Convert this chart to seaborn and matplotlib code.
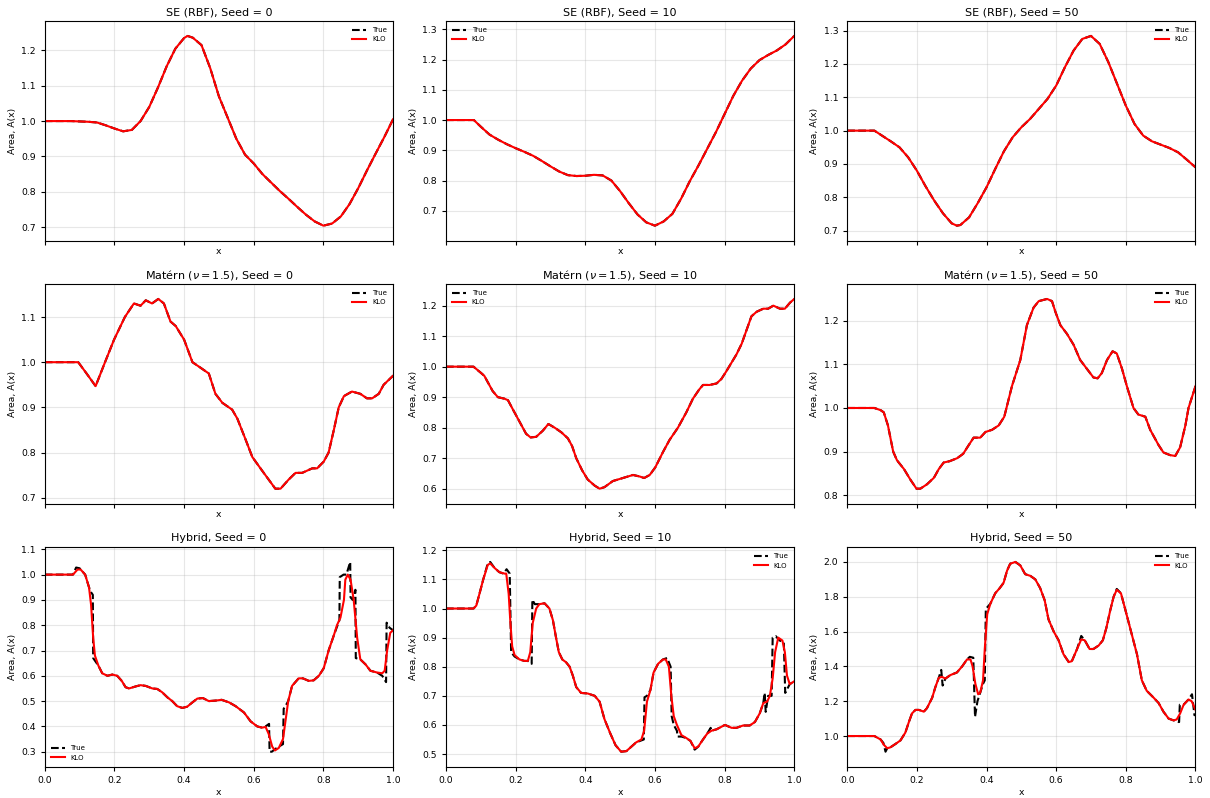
import matplotlib
matplotlib.use("Agg")
import matplotlib.pyplot as plt
import seaborn as sns
import pandas as pd

# ---------------- data ----------------
kernels = ["SE (RBF)", "Matérn ($\\nu = 1.5$)", "Hybrid"]
seeds = [0, 10, 50]

# SE (RBF)
se0_x = [0, 0.025, 0.05, 0.075, 0.1, 0.125, 0.15, 0.175, 0.2, 0.225, 0.25, 0.275, 0.3, 0.325, 0.35, 0.375,
         0.4, 0.41, 0.425, 0.45, 0.475, 0.5, 0.525, 0.55, 0.575, 0.6, 0.625, 0.65, 0.675, 0.7, 0.725, 0.75,
         0.775, 0.8, 0.825, 0.85, 0.875, 0.9, 0.925, 0.95, 0.975, 1.0]
se0_y = [1.0, 1.0, 1.0, 1.0, 0.999, 0.998, 0.996, 0.988, 0.979, 0.971, 0.975, 1.0, 1.04, 1.095, 1.155, 1.205,
         1.235, 1.241, 1.236, 1.215, 1.15, 1.07, 1.01, 0.95, 0.905, 0.88, 0.85, 0.826, 0.802, 0.78, 0.757, 0.735,
         0.716, 0.704, 0.71, 0.73, 0.765, 0.81, 0.86, 0.908, 0.955, 1.005]

se10_x = [0, 0.05, 0.08, 0.1, 0.125, 0.15, 0.175, 0.2, 0.225, 0.25, 0.275, 0.3, 0.325, 0.35, 0.375, 0.4,
          0.425, 0.45, 0.475, 0.5, 0.525, 0.55, 0.575, 0.6, 0.625, 0.65, 0.675, 0.7, 0.725, 0.75, 0.775, 0.8,
          0.825, 0.85, 0.875, 0.9, 0.925, 0.95, 0.975, 1.0]
se10_y = [1.0, 1.0, 1.0, 0.978, 0.952, 0.935, 0.92, 0.907, 0.895, 0.882, 0.865, 0.847, 0.83, 0.818, 0.815, 0.816,
          0.819, 0.817, 0.8, 0.765, 0.725, 0.688, 0.662, 0.651, 0.665, 0.69, 0.74, 0.798, 0.85, 0.905, 0.96, 1.02,
          1.08, 1.13, 1.17, 1.198, 1.215, 1.23, 1.25, 1.278]

se50_x = [0, 0.05, 0.078, 0.1, 0.125, 0.15, 0.175, 0.2, 0.225, 0.25, 0.275, 0.3, 0.315, 0.325, 0.35, 0.375,
          0.4, 0.425, 0.45, 0.475, 0.5, 0.525, 0.55, 0.575, 0.6, 0.625, 0.65, 0.675, 0.7, 0.725, 0.75, 0.775,
          0.8, 0.825, 0.85, 0.875, 0.9, 0.925, 0.95, 0.975, 1.0]
se50_y = [1.0, 1.0, 1.0, 0.985, 0.968, 0.95, 0.92, 0.88, 0.833, 0.79, 0.752, 0.722, 0.715, 0.717, 0.74, 0.783,
          0.83, 0.885, 0.938, 0.98, 1.01, 1.035, 1.065, 1.095, 1.135, 1.19, 1.24, 1.275, 1.284, 1.26, 1.205, 1.14,
          1.075, 1.02, 0.985, 0.968, 0.958, 0.948, 0.935, 0.913, 0.89]

# Matérn (nu = 1.5)
m0_x = [0, 0.096, 0.12, 0.146, 0.173, 0.199, 0.23, 0.256, 0.275, 0.29, 0.308, 0.326, 0.342, 0.361, 0.376, 0.4,
        0.424, 0.443, 0.471, 0.49, 0.51, 0.538, 0.553, 0.576, 0.596, 0.624, 0.643, 0.662, 0.677, 0.7, 0.72, 0.739,
        0.768, 0.782, 0.801, 0.815, 0.83, 0.844, 0.859, 0.882, 0.906, 0.925, 0.94, 0.959, 0.973, 1.0]
m0_y = [1.0, 1.0, 0.975, 0.947, 1.0, 1.05, 1.1, 1.13, 1.125, 1.137, 1.13, 1.14, 1.13, 1.09, 1.08, 1.05,
        1.0, 0.99, 0.975, 0.93, 0.91, 0.895, 0.875, 0.83, 0.79, 0.76, 0.74, 0.72, 0.72, 0.74, 0.755, 0.755,
        0.765, 0.765, 0.78, 0.8, 0.85, 0.9, 0.925, 0.935, 0.93, 0.92, 0.92, 0.93, 0.95, 0.97]

m10_x = [0, 0.079, 0.1, 0.11, 0.134, 0.149, 0.168, 0.178, 0.192, 0.211, 0.23, 0.243, 0.259, 0.278, 0.294, 0.312,
         0.331, 0.35, 0.362, 0.374, 0.391, 0.407, 0.427, 0.441, 0.455, 0.479, 0.508, 0.537, 0.556, 0.569, 0.585,
         0.601, 0.623, 0.642, 0.666, 0.69, 0.709, 0.727, 0.738, 0.757, 0.777, 0.791, 0.805, 0.834, 0.849, 0.863,
         0.877, 0.892, 0.911, 0.925, 0.94, 0.959, 0.973, 0.988, 1.0]
m10_y = [1.0, 1.0, 0.98, 0.97, 0.92, 0.9, 0.895, 0.89, 0.86, 0.82, 0.78, 0.768, 0.77, 0.79, 0.812, 0.8,
         0.785, 0.765, 0.74, 0.7, 0.66, 0.63, 0.61, 0.6, 0.605, 0.625, 0.635, 0.645, 0.64, 0.635, 0.645,
         0.67, 0.72, 0.76, 0.8, 0.85, 0.895, 0.925, 0.94, 0.94, 0.945, 0.96, 0.985, 1.04, 1.075, 1.12,
         1.165, 1.18, 1.19, 1.19, 1.2, 1.19, 1.19, 1.21, 1.222]

m50_x = [0, 0.078, 0.096, 0.105, 0.117, 0.132, 0.143, 0.163, 0.182, 0.199, 0.21, 0.229, 0.249, 0.263, 0.277,
         0.294, 0.316, 0.333, 0.349, 0.363, 0.382, 0.397, 0.416, 0.435, 0.451, 0.473, 0.497, 0.516, 0.535, 0.55,
         0.574, 0.588, 0.598, 0.612, 0.631, 0.65, 0.669, 0.688, 0.707, 0.719, 0.731, 0.746, 0.762, 0.774, 0.789,
         0.803, 0.822, 0.836, 0.856, 0.87, 0.894, 0.908, 0.927, 0.942, 0.956, 0.971, 0.98, 1.0]
m50_y = [1.0, 1.0, 0.995, 0.99, 0.96, 0.9, 0.88, 0.86, 0.835, 0.815, 0.815, 0.825, 0.84, 0.86, 0.875,
         0.878, 0.885, 0.895, 0.915, 0.932, 0.932, 0.945, 0.95, 0.96, 0.98, 1.05, 1.11, 1.19, 1.23, 1.245,
         1.25, 1.245, 1.22, 1.19, 1.17, 1.145, 1.11, 1.09, 1.07, 1.068, 1.08, 1.11, 1.13, 1.125, 1.09,
         1.05, 1.0, 0.985, 0.98, 0.95, 0.915, 0.898, 0.892, 0.89, 0.91, 0.96, 1.0, 1.05]

# Hybrid, seed 0
h0_klo_x = [0, 0.081, 0.094, 0.103, 0.116, 0.127, 0.133, 0.139, 0.144, 0.154, 0.165, 0.18, 0.194, 0.208, 0.221,
            0.232, 0.242, 0.261, 0.275, 0.29, 0.309, 0.323, 0.337, 0.352, 0.366, 0.38, 0.395, 0.409, 0.424, 0.438,
            0.454, 0.471, 0.49, 0.508, 0.529, 0.548, 0.572, 0.591, 0.61, 0.624, 0.634, 0.643, 0.653, 0.661, 0.672,
            0.684, 0.691, 0.699, 0.71, 0.729, 0.741, 0.758, 0.772, 0.787, 0.801, 0.815, 0.83, 0.839, 0.849, 0.859,
            0.863, 0.87, 0.878, 0.887, 0.897, 0.906, 0.921, 0.935, 0.954, 0.969, 0.976, 0.983, 0.992, 1.0]
h0_klo_y = [1.0, 1.0, 1.02, 1.02, 1.0, 0.95, 0.88, 0.75, 0.68, 0.64, 0.61, 0.6, 0.605, 0.6, 0.58,
            0.555, 0.55, 0.558, 0.563, 0.56, 0.55, 0.548, 0.535, 0.515, 0.5, 0.48, 0.473, 0.478, 0.495, 0.51,
            0.512, 0.5, 0.502, 0.505, 0.495, 0.48, 0.455, 0.42, 0.4, 0.395, 0.398, 0.37, 0.32, 0.305, 0.315,
            0.35, 0.42, 0.5, 0.56, 0.59, 0.59, 0.58, 0.582, 0.6, 0.63, 0.7, 0.76, 0.8, 0.83, 0.9,
            0.98, 1.0, 0.98, 0.9, 0.75, 0.665, 0.645, 0.62, 0.613, 0.61, 0.62, 0.7, 0.77, 0.78]
h0_true_x = [0, 0.081, 0.09, 0.1, 0.116, 0.127, 0.133, 0.138, 0.139, 0.144, 0.154, 0.165, 0.18, 0.194, 0.208,
             0.221, 0.232, 0.242, 0.261, 0.275, 0.29, 0.309, 0.323, 0.337, 0.352, 0.366, 0.38, 0.395, 0.409, 0.424,
             0.438, 0.454, 0.471, 0.49, 0.508, 0.529, 0.548, 0.572, 0.591, 0.61, 0.624, 0.634, 0.644, 0.6455, 0.652,
             0.661, 0.672, 0.684, 0.686, 0.691, 0.699, 0.71, 0.729, 0.741, 0.758, 0.772, 0.787, 0.801, 0.815, 0.83,
             0.846, 0.847, 0.858, 0.866, 0.877, 0.878, 0.884, 0.892, 0.893, 0.906, 0.921, 0.935, 0.954, 0.969,
             0.98, 0.9815, 0.99, 1.0]
h0_true_y = [1.0, 1.0, 1.028, 1.025, 1.0, 0.95, 0.93, 0.92, 0.67, 0.66, 0.64, 0.61, 0.6, 0.605, 0.6,
             0.58, 0.555, 0.55, 0.558, 0.563, 0.56, 0.55, 0.548, 0.535, 0.515, 0.5, 0.48, 0.473, 0.478, 0.495,
             0.51, 0.512, 0.5, 0.502, 0.505, 0.495, 0.48, 0.455, 0.42, 0.4, 0.395, 0.4, 0.41, 0.3, 0.3,
             0.31, 0.32, 0.33, 0.47, 0.48, 0.5, 0.56, 0.59, 0.59, 0.58, 0.582, 0.6, 0.63, 0.7, 0.76,
             0.82, 0.99, 1.0, 1.0, 1.05, 0.91, 0.9, 0.94, 0.67, 0.665, 0.645, 0.62, 0.613, 0.6,
             0.575, 0.81, 0.79, 0.78]

# Hybrid, seed 10
h10_klo_x = [0, 0.079, 0.087, 0.096, 0.107, 0.12, 0.127, 0.139, 0.153, 0.168, 0.173, 0.18, 0.185, 0.19, 0.197,
             0.211, 0.225, 0.235, 0.242, 0.249, 0.259, 0.268, 0.283, 0.297, 0.307, 0.316, 0.324, 0.334, 0.345,
             0.355, 0.364, 0.374, 0.388, 0.407, 0.427, 0.441, 0.455, 0.472, 0.487, 0.503, 0.518, 0.532, 0.546,
             0.561, 0.569, 0.577, 0.587, 0.596, 0.609, 0.623, 0.631, 0.64, 0.647, 0.654, 0.663, 0.676, 0.69,
             0.702, 0.714, 0.724, 0.738, 0.75, 0.762, 0.777, 0.801, 0.82, 0.834, 0.853, 0.872, 0.887, 0.901,
             0.911, 0.922, 0.93, 0.938, 0.945, 0.954, 0.966, 0.973, 0.979, 0.987, 1.0]
h10_klo_y = [1.0, 1.0, 1.01, 1.05, 1.1, 1.15, 1.155, 1.14, 1.125, 1.12, 1.12, 1.05, 0.95, 0.87, 0.84,
             0.825, 0.82, 0.82, 0.85, 0.95, 1.0, 1.015, 1.018, 1.0, 0.96, 0.9, 0.85, 0.825, 0.815,
             0.8, 0.77, 0.73, 0.71, 0.708, 0.7, 0.68, 0.62, 0.57, 0.53, 0.508, 0.51, 0.525, 0.54,
             0.55, 0.58, 0.68, 0.72, 0.78, 0.81, 0.825, 0.825, 0.8, 0.7, 0.63, 0.6, 0.565, 0.555,
             0.545, 0.52, 0.525, 0.55, 0.57, 0.58, 0.585, 0.6, 0.59, 0.59, 0.598, 0.598, 0.61, 0.64,
             0.675, 0.68, 0.7, 0.76, 0.85, 0.9, 0.89, 0.85, 0.77, 0.74, 0.75]
h10_true_x = [0, 0.079, 0.087, 0.096, 0.107, 0.12, 0.127, 0.139, 0.153, 0.165, 0.174, 0.183, 0.187, 0.197,
              0.211, 0.225, 0.235, 0.246, 0.248, 0.255, 0.268, 0.283, 0.297, 0.307, 0.316, 0.324, 0.334, 0.345,
              0.355, 0.364, 0.374, 0.388, 0.407, 0.427, 0.441, 0.455, 0.472, 0.487, 0.503, 0.518, 0.532, 0.546,
              0.568, 0.57, 0.577, 0.587, 0.596, 0.609, 0.623, 0.635, 0.645, 0.648, 0.654, 0.663, 0.665, 0.676,
              0.69, 0.702, 0.714, 0.724, 0.738, 0.75, 0.76, 0.762, 0.777, 0.801, 0.82, 0.834, 0.853, 0.872,
              0.887, 0.901, 0.911, 0.915, 0.918, 0.925, 0.935, 0.938, 0.947, 0.958, 0.97, 0.974, 0.987, 1.0]
h10_true_y = [1.0, 1.0, 1.01, 1.05, 1.1, 1.155, 1.16, 1.14, 1.125, 1.12, 1.135, 1.12, 0.85, 0.835,
              0.825, 0.82, 0.82, 0.81, 1.03, 1.015, 1.015, 1.018, 1.0, 0.96, 0.9, 0.85, 0.825, 0.815,
              0.8, 0.77, 0.73, 0.71, 0.708, 0.7, 0.68, 0.62, 0.57, 0.53, 0.508, 0.51, 0.525, 0.54,
              0.55, 0.695, 0.7, 0.72, 0.78, 0.81, 0.825, 0.83, 0.8, 0.63, 0.6, 0.58, 0.56, 0.56,
              0.555, 0.545, 0.515, 0.525, 0.55, 0.57, 0.59, 0.58, 0.585, 0.6, 0.59, 0.59, 0.598, 0.598,
              0.61, 0.64, 0.675, 0.71, 0.645, 0.7, 0.7, 0.9, 0.905, 0.89, 0.885, 0.71, 0.74, 0.75]

# Hybrid, seed 50
h50_klo_x = [0, 0.078, 0.096, 0.105, 0.115, 0.124, 0.139, 0.153, 0.167, 0.177, 0.186, 0.196, 0.206, 0.22,
             0.229, 0.244, 0.253, 0.263, 0.272, 0.282, 0.296, 0.315, 0.33, 0.344, 0.354, 0.36, 0.368, 0.376,
             0.382, 0.39, 0.395, 0.402, 0.411, 0.425, 0.438, 0.449, 0.459, 0.468, 0.483, 0.497, 0.511, 0.526,
             0.54, 0.554, 0.567, 0.578, 0.593, 0.607, 0.621, 0.636, 0.645, 0.66, 0.672, 0.682, 0.696, 0.707,
             0.722, 0.734, 0.744, 0.755, 0.765, 0.774, 0.786, 0.798, 0.815, 0.832, 0.846, 0.86, 0.88, 0.894,
             0.908, 0.923, 0.937, 0.946, 0.956, 0.966, 0.98, 0.989, 1.0]
h50_klo_y = [1.0, 1.0, 0.98, 0.95, 0.93, 0.935, 0.955, 0.975, 1.02, 1.08, 1.13, 1.15, 1.15, 1.14,
             1.16, 1.22, 1.28, 1.335, 1.34, 1.33, 1.35, 1.365, 1.4, 1.44, 1.44, 1.4, 1.3, 1.24,
             1.25, 1.32, 1.5, 1.7, 1.76, 1.82, 1.85, 1.88, 1.95, 1.99, 2.0, 1.98, 1.93, 1.92,
             1.9, 1.85, 1.78, 1.67, 1.6, 1.55, 1.47, 1.425, 1.43, 1.5, 1.555, 1.55, 1.5, 1.5,
             1.52, 1.55, 1.62, 1.72, 1.8, 1.84, 1.82, 1.73, 1.6, 1.47, 1.32, 1.26, 1.22, 1.19,
             1.14, 1.1, 1.09, 1.095, 1.13, 1.18, 1.21, 1.2, 1.15]
h50_true_x = [0, 0.078, 0.096, 0.104, 0.11, 0.115, 0.124, 0.139, 0.153, 0.167, 0.177, 0.186, 0.196, 0.206,
              0.22, 0.229, 0.244, 0.253, 0.263, 0.27, 0.274, 0.282, 0.296, 0.315, 0.33, 0.344, 0.352, 0.362,
              0.367, 0.374, 0.382, 0.39, 0.395, 0.398, 0.411, 0.425, 0.438, 0.449, 0.459, 0.468, 0.483, 0.497,
              0.511, 0.526, 0.54, 0.554, 0.567, 0.578, 0.593, 0.607, 0.621, 0.636, 0.645, 0.66, 0.672, 0.682,
              0.696, 0.707, 0.722, 0.734, 0.744, 0.755, 0.765, 0.774, 0.786, 0.798, 0.815, 0.832, 0.846, 0.86,
              0.88, 0.894, 0.908, 0.923, 0.937, 0.953, 0.955, 0.966, 0.98, 0.99, 0.997, 1.0]
h50_true_y = [1.0, 1.0, 0.98, 0.96, 0.91, 0.93, 0.935, 0.955, 0.975, 1.02, 1.08, 1.13, 1.15, 1.15,
              1.14, 1.16, 1.22, 1.28, 1.335, 1.38, 1.29, 1.33, 1.35, 1.365, 1.4, 1.44, 1.455, 1.45,
              1.11, 1.2, 1.25, 1.3, 1.32, 1.73, 1.76, 1.82, 1.85, 1.88, 1.95, 1.99, 2.0, 1.98,
              1.93, 1.92, 1.9, 1.85, 1.78, 1.67, 1.6, 1.55, 1.47, 1.425, 1.43, 1.5, 1.575, 1.55,
              1.5, 1.5, 1.52, 1.55, 1.62, 1.72, 1.8, 1.845, 1.82, 1.73, 1.6, 1.47, 1.32, 1.26,
              1.22, 1.19, 1.14, 1.1, 1.09, 1.08, 1.18, 1.18, 1.21, 1.24, 1.12, 1.12]

x_ticks = [0.0, 0.2, 0.4, 0.6, 0.8, 1.0]

# (true_x, true_y, klo_x, klo_y) per panel, row = kernel, col = seed
panels = [
    [(se0_x, se0_y, se0_x, se0_y), (se10_x, se10_y, se10_x, se10_y), (se50_x, se50_y, se50_x, se50_y)],
    [(m0_x, m0_y, m0_x, m0_y), (m10_x, m10_y, m10_x, m10_y), (m50_x, m50_y, m50_x, m50_y)],
    [(h0_true_x, h0_true_y, h0_klo_x, h0_klo_y), (h10_true_x, h10_true_y, h10_klo_x, h10_klo_y),
     (h50_true_x, h50_true_y, h50_klo_x, h50_klo_y)],
]
legend_locs = [["upper right", "upper left", "upper right"],
               ["upper right", "upper left", "upper right"],
               ["lower left", "upper right", "upper right"]]

# ---------------- figure ----------------
fig, axes = plt.subplots(3, 3, figsize=(12.1, 7.98), dpi=100)
fig.subplots_adjust(left=0.037, right=0.988, top=0.974, bottom=0.039, wspace=0.152, hspace=0.195)

for r in range(3):
    for c in range(3):
        ax = axes[r][c]
        tx, ty, kx, ky = panels[r][c]
        assert len(tx) == len(ty) and len(kx) == len(ky), (r, c, len(tx), len(ty), len(kx), len(ky))
        df_t = pd.DataFrame({"x": tx, "A": ty})
        df_k = pd.DataFrame({"x": kx, "A": ky})
        sns.lineplot(data=df_t, x="x", y="A", ax=ax, color="black", linestyle="--", linewidth=1.5,
                     label="True", estimator=None, sort=False)
        sns.lineplot(data=df_k, x="x", y="A", ax=ax, color="red", linestyle="-", linewidth=1.5,
                     label="KLO", estimator=None, sort=False)
        ax.set_xlim(0, 1)
        ax.margins(y=0.08)
        ax.set_xticks(x_ticks)
        ax.grid(True, alpha=0.3)
        ax.set_title(f"{kernels[r]}, Seed = {seeds[c]}", fontsize=8, pad=4)
        ax.set_ylabel("Area, A(x)", fontsize=6.7, labelpad=3)
        ax.tick_params(labelsize=6.7, length=3)
        ax.legend(loc=legend_locs[r][c], fontsize=5.0, frameon=False)
        if r < 2:
            ax.tick_params(labelbottom=False)
            ax.set_xlabel("x", fontsize=6.7, labelpad=1.5)
        else:
            ax.set_xlabel("x", fontsize=6.7, labelpad=2)

fig.savefig("out.png", dpi=100)
